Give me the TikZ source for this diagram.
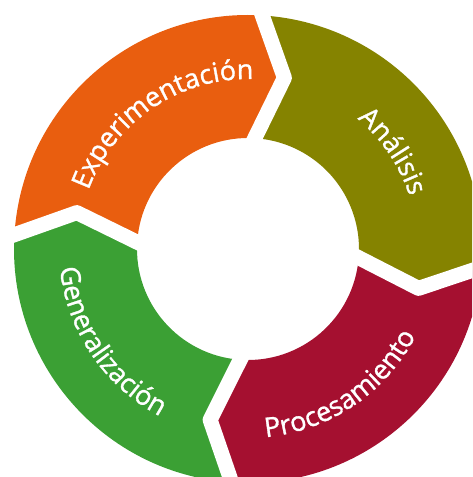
\documentclass[tikz,border=0pt]{standalone}
\usepackage{fontspec}
\setmainfont{Open Sans}
\newfontfamily\ringff{Open Sans}[FakeBold=1.2]
\usetikzlibrary{decorations.text,calc}
\definecolor{cOrange}{RGB}{233,94,15}
\definecolor{cOlive}{RGB}{133,131,0}
\definecolor{cRed}{RGB}{165,16,48}
\definecolor{cGreen}{RGB}{59,160,52}
\newcommand\ringfont{\ringff\fontsize{27}{27}\selectfont}
\newcommand\Ro{234}
\newcommand\Ri{111}
\newcommand\Rm{175}
\newcommand\dT{8.5}
\newcommand\ringseg[3]{%
  \fill[#3] (#1:\Ro) arc[start angle=#1,end angle=#2,radius=\Ro]
    -- ({#2-\dT}:\Rm) -- (#2:\Ri)
    arc[start angle=#2,end angle=#1,radius=\Ri]
    -- ({#1-\dT}:\Rm) -- cycle;}
\newcommand\ringgap[2]{%
  \coordinate (#2A) at ({#1-\dT}:\Rm);
  \coordinate (#2I) at (#1:\Ri);
  \coordinate (#2O) at (#1:\Ro);
  \draw[gapline] ($(#2A)!1.35!(#2I)$) -- (#2A) -- ($(#2A)!1.35!(#2O)$);}
\tikzset{
  gapline/.style={white, line width=15pt, line join=round},
  ringtext/.style={decorate, decoration={text along path, text align=center,
     text color=white, text={|\ringfont|#1}}}
}
\begin{document}
\begin{tikzpicture}[x=1pt,y=1pt]
\useasboundingbox (0,0) rectangle (472,477);
\clip (0,0) rectangle (472,477);
\begin{scope}[shift={(248,228)}]
  \ringseg{176.5}{86.5}{cOrange}
  \ringseg{86.5}{-4.5}{cOlive}
  \ringseg{-4.5}{-94}{cRed}
  \ringseg{-94}{-183.5}{cGreen}
  \ringgap{86.5}{g1}
  \ringgap{-4.5}{g2}
  \ringgap{-94}{g3}
  \ringgap{-183.5}{g4}
  \path[ringtext=Experimentación] (174:170) arc[start angle=174,end angle=74,radius=170];
  \path[ringtext=Análisis] (84:170) arc[start angle=84,end angle=-16,radius=170];
  \path[ringtext=Procesamiento] (-106:189) arc[start angle=-106,end angle=-6,radius=189];
  \path[ringtext=Generalización] (164:189) arc[start angle=164,end angle=264,radius=189];
\end{scope}
\end{tikzpicture}
\end{document}
